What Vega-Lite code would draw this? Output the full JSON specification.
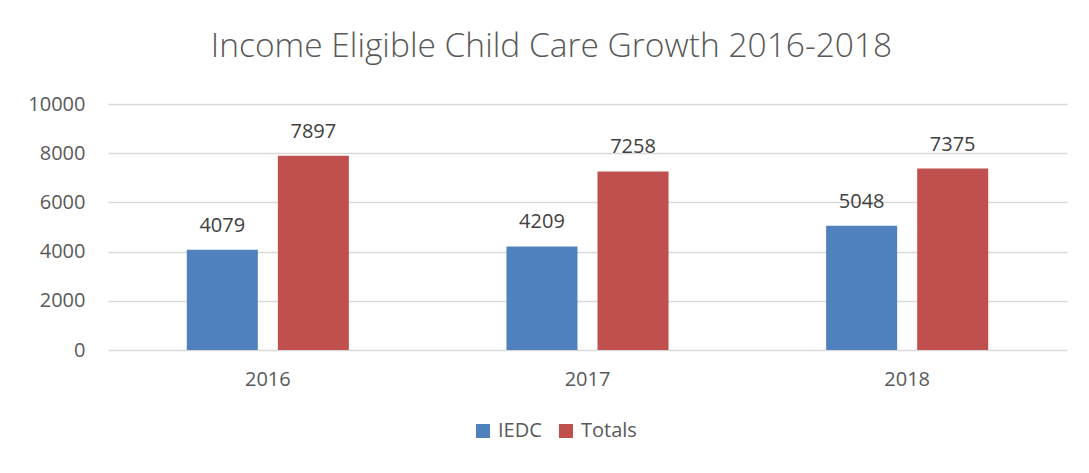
{
  "$schema": "https://vega.github.io/schema/vega-lite/v6.json",
  "width": 959,
  "height": 246,
  "autosize": {"type": "none"},
  "padding": {"left": 108, "top": 104, "right": 22, "bottom": 123},
  "background": "white",
  "title": {
    "text": "Income Eligible Child Care Growth 2016-2018",
    "font": "Open Sans",
    "fontSize": 33.5,
    "fontWeight": 300,
    "color": "#595959",
    "dx": -36,
    "offset": 30
  },
  "config": {
    "view": {"stroke": null},
    "font": "Open Sans",
    "text": {"font": "Open Sans"}
  },
  "data": {
    "values": [
      {"year": "2016", "series": "IEDC", "value": 4079},
      {"year": "2016", "series": "Totals", "value": 7897},
      {"year": "2017", "series": "IEDC", "value": 4209},
      {"year": "2017", "series": "Totals", "value": 7258},
      {"year": "2018", "series": "IEDC", "value": 5048},
      {"year": "2018", "series": "Totals", "value": 7375}
    ]
  },
  "encoding": {
    "x": {
      "field": "year",
      "type": "nominal",
      "scale": {"paddingInner": 0.493, "paddingOuter": 0.2465},
      "axis": {
        "title": null,
        "labelAngle": 0,
        "domain": false,
        "ticks": false,
        "labelPadding": 19,
        "labelFontSize": 20,
        "labelColor": "#595959",
        "labelFont": "Open Sans"
      }
    },
    "xOffset": {
      "field": "series",
      "type": "nominal",
      "sort": ["IEDC", "Totals"],
      "scale": {"paddingInner": 0.22, "paddingOuter": 0}
    },
    "y": {
      "field": "value",
      "type": "quantitative",
      "scale": {"domain": [0, 10000]},
      "axis": {
        "title": null,
        "values": [0, 2000, 4000, 6000, 8000, 10000],
        "format": "d",
        "grid": true,
        "gridColor": "#D9D9D9",
        "gridWidth": 1.5,
        "domain": false,
        "ticks": false,
        "labelPadding": 23,
        "labelFontSize": 20,
        "labelColor": "#595959",
        "labelFont": "Open Sans"
      }
    },
    "color": {
      "field": "series",
      "type": "nominal",
      "sort": ["IEDC", "Totals"],
      "scale": {"domain": ["IEDC", "Totals"], "range": ["#4F81BD", "#C0504D"]},
      "legend": {
        "title": null,
        "orient": "none",
        "direction": "horizontal",
        "legendX": 365,
        "legendY": 317,
        "padding": 0,
        "symbolType": "square",
        "symbolSize": 196,
        "symbolStrokeWidth": 0,
        "symbolOpacity": 1,
        "labelFontSize": 20,
        "labelColor": "#595959",
        "labelFont": "Open Sans",
        "labelOffset": 5,
        "columnPadding": 14
      }
    }
  },
  "layer": [
    {"mark": {"type": "bar", "opacity": 1}},
    {
      "mark": {"type": "text", "baseline": "bottom", "dy": -14, "fontSize": 20, "font": "Open Sans"},
      "encoding": {
        "text": {"field": "value", "type": "quantitative", "format": "d"},
        "color": {"value": "#404040"}
      }
    }
  ]
}
